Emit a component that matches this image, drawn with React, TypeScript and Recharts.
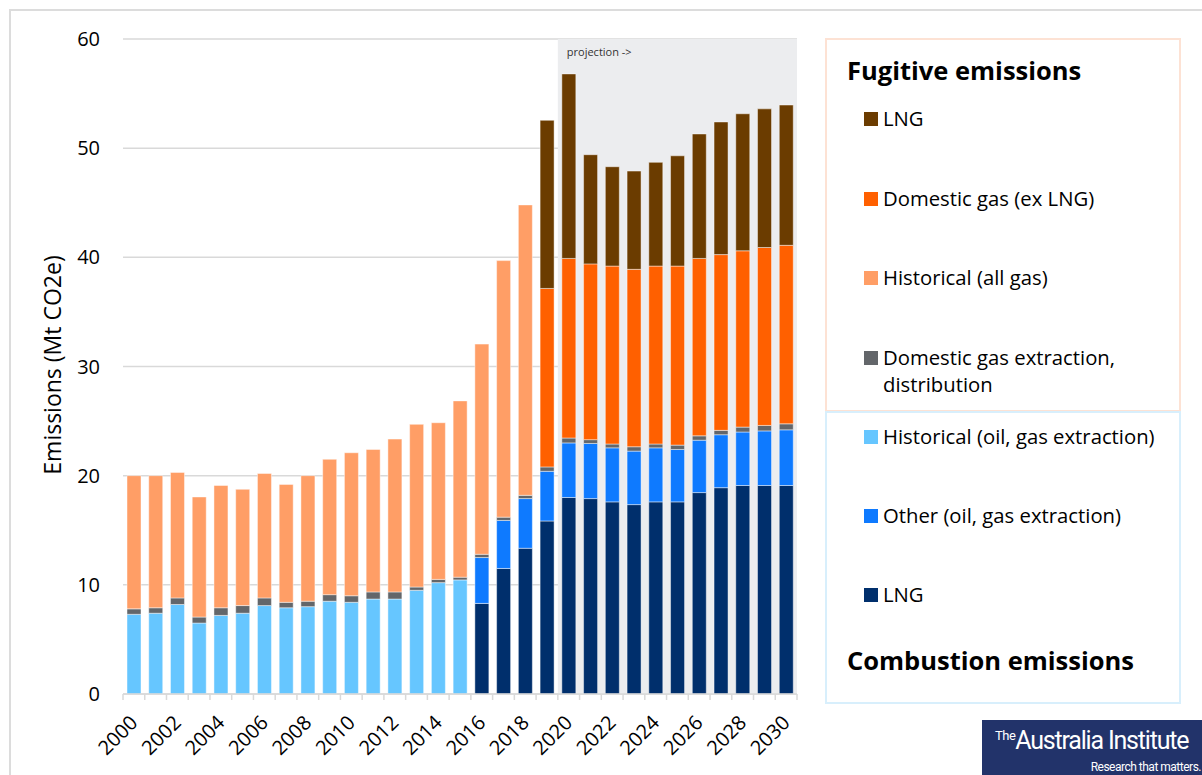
import React from "react";
import {
  BarChart,
  Bar,
  XAxis,
  YAxis,
  CartesianGrid,
  ReferenceArea,
} from "recharts";

const years = [
  "2000", "2001", "2002", "2003", "2004", "2005", "2006", "2007", "2008", "2009",
  "2010", "2011", "2012", "2013", "2014", "2015", "2016", "2017", "2018", "2019",
  "2020", "2021", "2022", "2023", "2024", "2025", "2026", "2027", "2028", "2029",
  "2030",
];

// combustion
const historicalOilGas = [
  7.3, 7.4, 8.2, 6.5, 7.2, 7.4, 8.1, 7.9, 8.0, 8.5, 8.4, 8.7, 8.7, 9.5, 10.2, 10.45,
  null, null, null, null, null, null, null, null, null, null, null, null, null, null, null,
];
const lngCombustion = [
  null, null, null, null, null, null, null, null, null, null, null, null, null, null, null, null,
  8.3, 11.5, 13.35, 15.85, 18.0, 17.9, 17.6, 17.35, 17.6, 17.6, 18.45, 18.9, 19.1, 19.1, 19.1,
];
const otherCombustion = [
  null, null, null, null, null, null, null, null, null, null, null, null, null, null, null, null,
  4.2, 4.4, 4.55, 4.55, 5.0, 5.05, 4.95, 4.9, 4.95, 4.8, 4.8, 4.85, 4.9, 5.0, 5.1,
];

// fugitive
const domesticExtraction = [
  0.5, 0.5, 0.6, 0.55, 0.7, 0.7, 0.7, 0.5, 0.5, 0.6, 0.6, 0.65, 0.65, 0.3, 0.3, 0.25,
  0.3, 0.3, 0.3, 0.4, 0.45, 0.35, 0.35, 0.4, 0.35, 0.4, 0.4, 0.4, 0.45, 0.5, 0.55,
];
const historicalGas = [
  12.2, 12.1, 11.5, 11.0, 11.2, 10.65, 11.4, 10.8, 11.5, 12.4, 13.1, 13.05, 14.0, 14.9, 14.35, 16.15,
  19.25, 23.5, 26.6, null, null, null, null, null, null, null, null, null, null, null, null,
];
const domesticGas = [
  null, null, null, null, null, null, null, null, null, null, null, null, null, null, null, null,
  null, null, null, 16.35, 16.45, 16.1, 16.3, 16.25, 16.3, 16.4, 16.25, 16.1, 16.15, 16.3, 16.35,
];
const lngFugitive = [
  null, null, null, null, null, null, null, null, null, null, null, null, null, null, null, null,
  null, null, null, 15.4, 16.9, 10.0, 9.1, 9.0, 9.5, 10.1, 11.4, 12.15, 12.55, 12.7, 12.85,
];

const yTicks = [0, 10, 20, 30, 40, 50, 60];

const data = years.map((year, i) => ({
  year,
  histOil: historicalOilGas[i],
  lngComb: lngCombustion[i],
  otherComb: otherCombustion[i],
  domExtr: domesticExtraction[i],
  histGas: historicalGas[i],
  domGas: domesticGas[i],
  lngFug: lngFugitive[i],
}));

const COLORS = {
  histOil: "#66C6FF",
  lngComb: "#002F6C",
  otherComb: "#0E7AFF",
  domExtr: "#63666A",
  histGas: "#FF9E66",
  domGas: "#FF6000",
  lngFug: "#6B3C00",
};

const FONT = "'Open Sans', Lato, sans-serif";

const CHART_W = 810;
const CHART_H = 775;
const MARGIN = { top: 39, right: 13, left: 63, bottom: 11 };
const Y_AXIS_W = 60;
const PLOT_W = CHART_W - MARGIN.left - MARGIN.right - Y_AXIS_W;
const BAND = PLOT_W / years.length;

function YearTick(props: any) {
  const { x, y, payload, index } = props;
  const axisY = y - 6;
  const show = Number(payload.value) % 2 === 0;
  return (
    <g>
      <line x1={x - BAND / 2} x2={x - BAND / 2} y1={axisY} y2={axisY + 6} stroke="#d9d9d9" strokeWidth={1.5} />
      {index === years.length - 1 && (
        <line x1={x + BAND / 2} x2={x + BAND / 2} y1={axisY} y2={axisY + 6} stroke="#d9d9d9" strokeWidth={1.5} />
      )}
      {show && (
        <text
          x={x + 5}
          y={axisY + 30}
          transform={`rotate(-45, ${x + 5}, ${axisY + 30})`}
          textAnchor="end"
          fontSize={20}
          fontFamily={FONT}
          fill="#000"
        >
          {payload.value}
        </text>
      )}
    </g>
  );
}

function LegendItem({ color, top, lines }: { color: string; top: number; lines: string[] }) {
  return (
    <div style={{ position: "absolute", left: 37, top, display: "flex", alignItems: "flex-start" }}>
      <div style={{ width: 14, height: 14, background: color, marginTop: 7, marginRight: 5 }} />
      <div style={{ fontSize: 20.3, lineHeight: "27px", color: "#000", whiteSpace: "nowrap" }}>
        {lines.map((l) => (
          <div key={l}>{l}</div>
        ))}
      </div>
    </div>
  );
}

export default function App() {
  const barProps = {
    stackId: "a",
    barSize: 14,
    isAnimationActive: false,
    stroke: "rgba(255,255,255,0.45)",
    strokeWidth: 1,
  };
  return (
    <div style={{ position: "absolute", left: 0, top: 0, width: 1202, height: 775, background: "#fff", overflow: "hidden", fontFamily: FONT }}>
      <div style={{ position: "absolute", left: 9, top: 9, width: 1200, height: 800, borderLeft: "2px solid #dcdcdc", borderTop: "2px solid #dcdcdc" }} />
      <div style={{ position: "absolute", left: 0, top: 0 }}>
        <BarChart width={CHART_W} height={CHART_H} data={data} margin={MARGIN}>
          <ReferenceArea
            x1="2020"
            x2="2030"
            y1={0}
            y2={60}
            fill="#ECEDEF"
            fillOpacity={1}
            stroke="none"
            label={{ value: "projection ->", position: "insideTopLeft", offset: 9, fontSize: 11, fill: "#333", fontFamily: FONT }}
          />
          <CartesianGrid vertical={false} stroke="#d9d9d9" strokeWidth={1.5} />
          <XAxis
            dataKey="year"
            interval={0}
            tick={<YearTick />}
            tickLine={false}
            tickSize={6}
            tickMargin={0}
            height={70}
            axisLine={{ stroke: "#d9d9d9", strokeWidth: 1.5 }}
          />
          <YAxis
            domain={[0, 60]}
            ticks={yTicks}
            width={Y_AXIS_W}
            axisLine={false}
            tickLine={false}
            tickSize={6}
            tickMargin={17}
            tick={{ fontSize: 20, fill: "#000", fontFamily: FONT }}
          />
          <Bar dataKey="histOil" fill={COLORS.histOil} {...barProps} />
          <Bar dataKey="lngComb" fill={COLORS.lngComb} {...barProps} />
          <Bar dataKey="otherComb" fill={COLORS.otherComb} {...barProps} />
          <Bar dataKey="domExtr" fill={COLORS.domExtr} {...barProps} />
          <Bar dataKey="histGas" fill={COLORS.histGas} {...barProps} />
          <Bar dataKey="domGas" fill={COLORS.domGas} {...barProps} />
          <Bar dataKey="lngFug" fill={COLORS.lngFug} {...barProps} />
        </BarChart>
      </div>

      <div
        style={{
          position: "absolute",
          left: 52,
          top: 365,
          transform: "translate(-50%, -50%) rotate(-90deg)",
          fontSize: 23,
          whiteSpace: "nowrap",
          color: "#000",
        }}
      >
        Emissions (Mt CO2e)
      </div>

      {/* legend: fugitive box */}
      <div style={{ position: "absolute", left: 825, top: 38, width: 352, height: 370, border: "2px solid #FDE2D4" }}>
        <div style={{ position: "absolute", left: 20, top: 13, fontSize: 25.5, fontWeight: 700, color: "#000", whiteSpace: "nowrap" }}>Fugitive emissions</div>
        <LegendItem color={COLORS.lngFug} top={65} lines={["LNG"]} />
        <LegendItem color={COLORS.domGas} top={145} lines={["Domestic gas (ex LNG)"]} />
        <LegendItem color={COLORS.histGas} top={224} lines={["Historical (all gas)"]} />
        <LegendItem color={COLORS.domExtr} top={304} lines={["Domestic gas extraction,", "distribution"]} />
      </div>
      {/* legend: combustion box */}
      <div style={{ position: "absolute", left: 825, top: 411, width: 352, height: 289, border: "2px solid #D8EFFC" }}>
        <LegendItem color={COLORS.histOil} top={10} lines={["Historical (oil, gas extraction)"]} />
        <LegendItem color={COLORS.otherComb} top={89} lines={["Other (oil, gas extraction)"]} />
        <LegendItem color={COLORS.lngComb} top={168} lines={["LNG"]} />
        <div style={{ position: "absolute", left: 20, top: 230, fontSize: 25.5, fontWeight: 700, color: "#000", whiteSpace: "nowrap" }}>Combustion emissions</div>
      </div>

      {/* logo */}
      <div style={{ position: "absolute", left: 982, top: 720, width: 220, height: 55, background: "#22336A", color: "#fff" }}>
        <div
          style={{
            position: "absolute",
            left: 13,
            top: 6,
            fontFamily: "'Liberation Sans Narrow', 'Roboto', sans-serif",
            fontSize: 25,
            letterSpacing: -1.2,
            whiteSpace: "nowrap",
          }}
        >
          <span style={{ fontSize: 13, verticalAlign: 9, letterSpacing: -0.5 }}>The</span>Australia Institute
        </div>
        <div
          style={{
            position: "absolute",
            right: 1,
            top: 40,
            fontFamily: "'Liberation Sans Narrow', 'Roboto', sans-serif",
            fontSize: 12,
            letterSpacing: -0.5,
            whiteSpace: "nowrap",
          }}
        >
          Research that matters.
        </div>
      </div>
    </div>
  );
}
